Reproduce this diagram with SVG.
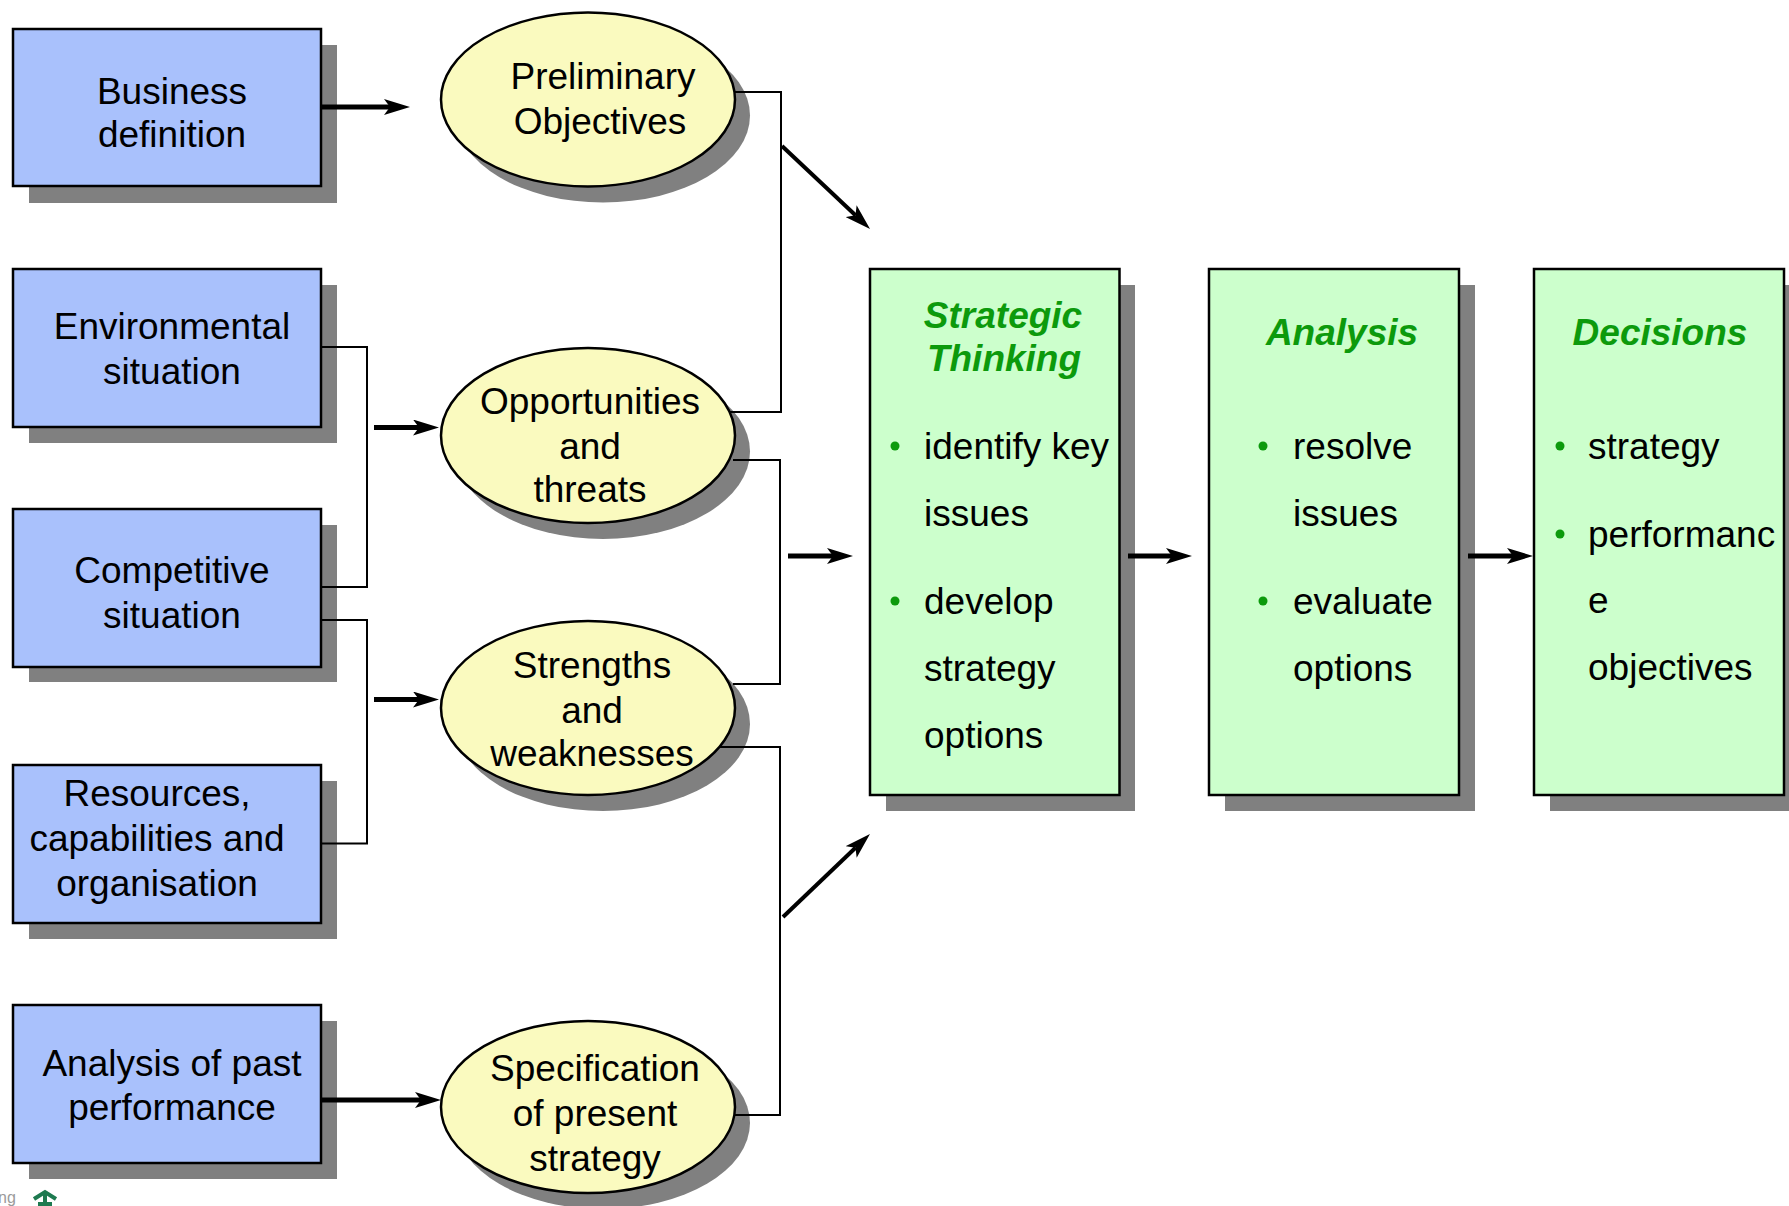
<svg xmlns="http://www.w3.org/2000/svg" width="1789" height="1206" viewBox="0 0 1789 1206">
<style>
  .shadow { fill: #808080; }
  .box { fill: #A9C1FC; stroke: #000; stroke-width: 2.5; }
  .ell { fill: #FAFABF; stroke: #000; stroke-width: 2.5; }
  .gbox { fill: #CCFFCC; stroke: #000; stroke-width: 2.5; }
  .t { font-family: "Liberation Sans", Arial, sans-serif; font-size: 37px; fill: #000; }
  .c { text-anchor: middle; }
  .title { font-family: "Liberation Sans", Arial, sans-serif; font-size: 37px; font-weight: bold; font-style: italic; fill: #0C9A0C; text-anchor: middle; }
  .bul { fill: #0C9A0C; }
  .conn { fill: none; stroke: #000; stroke-width: 2; }
  .arr { fill: none; stroke: #000; stroke-width: 5; marker-end: url(#ah); }
  .arrd { fill: none; stroke: #000; stroke-width: 4; marker-end: url(#ah); }
</style>
<defs>
  <marker id="ah" markerUnits="userSpaceOnUse" viewBox="0 0 26 16" markerWidth="26" markerHeight="16" refX="6" refY="8" orient="auto">
    <path d="M0,0 L26,8 L0,16 L6,8 Z" fill="#000"/>
  </marker>
</defs>

<!-- Left boxes -->
<g id="business-definition">
  <rect class="shadow" x="29" y="45" width="308" height="158"/>
  <rect class="box" x="13" y="29" width="308" height="157"/>
  <text class="t c" x="172" y="104">Business</text>
  <text class="t c" x="172" y="147">definition</text>
</g>
<g id="environmental-situation">
  <rect class="shadow" x="29" y="285" width="308" height="158"/>
  <rect class="box" x="13" y="269" width="308" height="158"/>
  <text class="t c" x="172" y="339">Environmental</text>
  <text class="t c" x="172" y="384">situation</text>
</g>
<g id="competitive-situation">
  <rect class="shadow" x="29" y="525" width="308" height="157"/>
  <rect class="box" x="13" y="509" width="308" height="158"/>
  <text class="t c" x="172" y="583">Competitive</text>
  <text class="t c" x="172" y="628">situation</text>
</g>
<g id="resources">
  <rect class="shadow" x="29" y="781" width="308" height="158"/>
  <rect class="box" x="13" y="765" width="308" height="158"/>
  <text class="t c" x="157" y="806">Resources,</text>
  <text class="t c" x="157" y="851">capabilities and</text>
  <text class="t c" x="157" y="896">organisation</text>
</g>
<g id="analysis-past-performance">
  <rect class="shadow" x="29" y="1021" width="308" height="158"/>
  <rect class="box" x="13" y="1005" width="308" height="158"/>
  <text class="t c" x="172" y="1076">Analysis of past</text>
  <text class="t c" x="172" y="1120">performance</text>
</g>

<!-- Ellipses -->
<g id="preliminary-objectives">
  <ellipse class="shadow" cx="603" cy="115.5" rx="147" ry="87"/>
  <ellipse class="ell" cx="588" cy="99.5" rx="147" ry="87"/>
  <text class="t c" x="603" y="89">Preliminary</text>
  <text class="t c" x="600" y="134">Objectives</text>
</g>
<g id="opportunities-threats">
  <ellipse class="shadow" cx="603" cy="451.5" rx="147" ry="87.5"/>
  <ellipse class="ell" cx="588" cy="435.5" rx="147" ry="87.5"/>
  <text class="t c" x="590" y="414">Opportunities</text>
  <text class="t c" x="590" y="459">and</text>
  <text class="t c" x="590" y="502">threats</text>
</g>
<g id="strengths-weaknesses">
  <ellipse class="shadow" cx="603" cy="724" rx="147" ry="87"/>
  <ellipse class="ell" cx="588" cy="708" rx="147" ry="87"/>
  <text class="t c" x="592" y="678">Strengths</text>
  <text class="t c" x="592" y="723">and</text>
  <text class="t c" x="592" y="766">weaknesses</text>
</g>
<g id="specification-present-strategy">
  <ellipse class="shadow" cx="603" cy="1123" rx="147" ry="86"/>
  <ellipse class="ell" cx="588" cy="1107" rx="147" ry="86"/>
  <text class="t c" x="595" y="1081">Specification</text>
  <text class="t c" x="595" y="1126">of present</text>
  <text class="t c" x="595" y="1171">strategy</text>
</g>

<!-- Green boxes -->
<g id="strategic-thinking">
  <rect class="shadow" x="886" y="285" width="249" height="526"/>
  <rect class="gbox" x="870" y="269" width="249.5" height="526"/>
  <text class="title" x="1003" y="328">Strategic</text>
  <text class="title" x="1004" y="371">Thinking</text>
  <circle class="bul" cx="895" cy="446" r="4.5"/>
  <text class="t" x="924" y="459">identify key</text>
  <text class="t" x="924" y="526">issues</text>
  <circle class="bul" cx="895" cy="601" r="4.5"/>
  <text class="t" x="924" y="614">develop</text>
  <text class="t" x="924" y="681">strategy</text>
  <text class="t" x="924" y="748">options</text>
</g>
<g id="analysis">
  <rect class="shadow" x="1225" y="285" width="250" height="526"/>
  <rect class="gbox" x="1209" y="269" width="250" height="526"/>
  <text class="title" x="1342" y="345">Analysis</text>
  <circle class="bul" cx="1263" cy="446" r="4.5"/>
  <text class="t" x="1293" y="459">resolve</text>
  <text class="t" x="1293" y="526">issues</text>
  <circle class="bul" cx="1263" cy="601" r="4.5"/>
  <text class="t" x="1293" y="614">evaluate</text>
  <text class="t" x="1293" y="681">options</text>
</g>
<g id="decisions">
  <rect class="shadow" x="1550" y="285" width="250" height="526"/>
  <rect class="gbox" x="1534" y="269" width="250" height="526"/>
  <text class="title" x="1660" y="345">Decisions</text>
  <circle class="bul" cx="1560" cy="446" r="4.5"/>
  <text class="t" x="1588" y="459">strategy</text>
  <circle class="bul" cx="1560" cy="534" r="4.5"/>
  <text class="t" x="1588" y="547">performanc</text>
  <text class="t" x="1588" y="613">e</text>
  <text class="t" x="1588" y="680">objectives</text>
</g>

<!-- Connectors -->
<g id="connectors">
  <path class="conn" d="M735,92 H781 V412 H730"/>
  <path class="conn" d="M733,460 H780 V684 H733"/>
  <path class="conn" d="M720,747 H780 V1115 H734"/>
  <path class="conn" d="M321,347 H367 V587 H321"/>
  <path class="conn" d="M321,620 H367 V843.5 H321"/>
  <line class="arr" x1="322" y1="107" x2="390" y2="107"/>
  <line class="arr" x1="374" y1="427.5" x2="419" y2="427.5"/>
  <line class="arr" x1="374" y1="699.5" x2="419" y2="699.5"/>
  <line class="arr" x1="322" y1="1100" x2="421" y2="1100"/>
  <line class="arr" x1="788" y1="556" x2="833" y2="556"/>
  <line class="arr" x1="1128" y1="556" x2="1172" y2="556"/>
  <line class="arr" x1="1468" y1="556" x2="1513" y2="556"/>
  <line class="arrd" x1="782" y1="146" x2="855.5" y2="215.3"/>
  <line class="arrd" x1="783" y1="917" x2="855.5" y2="847.8"/>
</g>

<!-- partial logo at bottom-left -->
<g id="logo">
  <text x="-2" y="1203" font-family="Liberation Sans, Arial, sans-serif" font-size="16" fill="#9a9a9a">ng</text>
  <path d="M34,1199 L45,1192 L56,1199 M38,1204 H52 M45,1194 V1206" fill="none" stroke="#1E7A50" stroke-width="4"/>
</g>
</svg>
